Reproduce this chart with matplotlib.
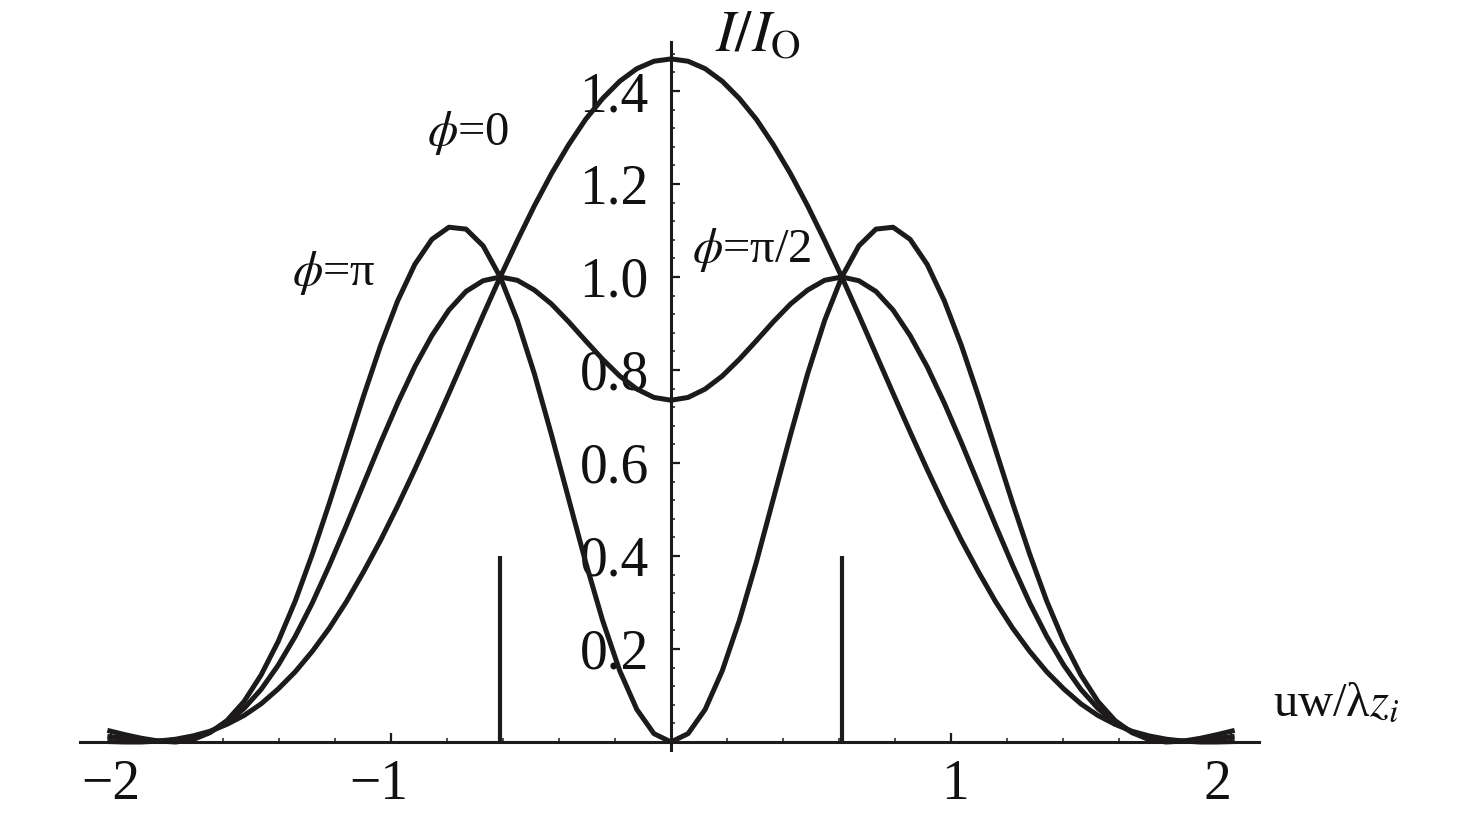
import matplotlib
matplotlib.use("Agg")
import matplotlib.pyplot as plt
from matplotlib.ticker import FixedLocator
from matplotlib.transforms import ScaledTranslation
import numpy as np

plt.rcParams['font.family'] = ['Liberation Serif', 'DejaVu Serif']
plt.rcParams['mathtext.fontset'] = 'stix'

# ---------------- data ----------------
x_vals = [-2.013, -1.952, -1.891, -1.830, -1.769, -1.708, -1.647, -1.586, -1.525, -1.464,
          -1.403, -1.342, -1.281, -1.220, -1.159, -1.098, -1.037, -0.976, -0.915, -0.854,
          -0.793, -0.732, -0.671, -0.610, -0.549, -0.488, -0.427, -0.366, -0.305, -0.244,
          -0.183, -0.122, -0.061, 0.000, 0.061, 0.122, 0.183, 0.244, 0.305, 0.366,
          0.427, 0.488, 0.549, 0.610, 0.671, 0.732, 0.793, 0.854, 0.915, 0.976,
          1.037, 1.098, 1.159, 1.220, 1.281, 1.342, 1.403, 1.464, 1.525, 1.586,
          1.647, 1.708, 1.769, 1.830, 1.891, 1.952, 2.013]

I_phi0 = [0.001, 0.000, 0.000, 0.002, 0.006, 0.013, 0.023, 0.038, 0.057, 0.082,
          0.114, 0.151, 0.195, 0.245, 0.302, 0.366, 0.434, 0.508, 0.586, 0.667,
          0.750, 0.834, 0.918, 1.000, 1.078, 1.153, 1.222, 1.284, 1.339, 1.384,
          1.421, 1.448, 1.464, 1.469, 1.464, 1.448, 1.421, 1.384, 1.339, 1.284,
          1.222, 1.153, 1.078, 1.000, 0.918, 0.834, 0.750, 0.667, 0.586, 0.508,
          0.434, 0.366, 0.302, 0.245, 0.195, 0.151, 0.114, 0.082, 0.057, 0.038,
          0.023, 0.013, 0.006, 0.002, 0.000, 0.000, 0.001]

I_phipi = [0.025, 0.016, 0.008, 0.002, 0.000, 0.005, 0.020, 0.046, 0.087, 0.144,
           0.216, 0.303, 0.404, 0.514, 0.629, 0.744, 0.853, 0.949, 1.027, 1.081,
           1.107, 1.103, 1.067, 1.000, 0.907, 0.792, 0.661, 0.524, 0.387, 0.261,
           0.153, 0.070, 0.018, 0.000, 0.018, 0.070, 0.153, 0.261, 0.387, 0.524,
           0.661, 0.792, 0.907, 1.000, 1.067, 1.103, 1.107, 1.081, 1.027, 0.949,
           0.853, 0.744, 0.629, 0.514, 0.404, 0.303, 0.216, 0.144, 0.087, 0.046,
           0.020, 0.005, 0.000, 0.002, 0.008, 0.016, 0.025]

I_phihalf = [0.012, 0.008, 0.004, 0.002, 0.003, 0.009, 0.021, 0.042, 0.072, 0.113,
             0.165, 0.227, 0.299, 0.380, 0.466, 0.555, 0.644, 0.729, 0.807, 0.874,
             0.929, 0.969, 0.992, 1.000, 0.993, 0.972, 0.942, 0.904, 0.863, 0.823,
             0.787, 0.759, 0.741, 0.735, 0.741, 0.759, 0.787, 0.823, 0.863, 0.904,
             0.942, 0.972, 0.993, 1.000, 0.992, 0.969, 0.929, 0.874, 0.807, 0.729,
             0.644, 0.555, 0.466, 0.380, 0.299, 0.227, 0.165, 0.113, 0.072, 0.042,
             0.021, 0.009, 0.003, 0.002, 0.004, 0.008, 0.012]

source_x = [-0.61, 0.61]
source_h = [0.4, 0.4]

xtick_vals = [-2, -1, 1, 2]
xtick_labels = ['\u22122', '\u22121', '1', '2']
ytick_vals = [0.2, 0.4, 0.6, 0.8, 1.0, 1.2, 1.4]
ytick_labels = ['0.2', '0.4', '0.6', '0.8', '1.0', '1.2', '1.4']

curve_labels = [r'$\phi$=0', r'$\phi$=π', r'$\phi$=π/2']
curve_label_pos = [(-0.871, 1.284), (-1.354, 0.983), (0.075, 1.032)]

# ---------------- figure ----------------
ink = '#1c1a1a'
fig = plt.figure(figsize=(14.76, 8.27), dpi=100)
ax = fig.add_axes([0, 0, 1, 1])
ax.set_xlim(-2.3964, 2.875)
ax.set_ylim(-0.1828, 1.5957)

for s in ['top', 'right']:
    ax.spines[s].set_visible(False)
ax.spines['left'].set_position(('data', 0))
ax.spines['bottom'].set_position(('data', 0))
ax.spines['left'].set_bounds(-0.017, 1.505)
ax.spines['bottom'].set_bounds(-2.11, 2.10)
for s in ['left', 'bottom']:
    ax.spines[s].set_linewidth(2.2)
    ax.spines[s].set_color(ink)

ax.set_xticks(xtick_vals)
ax.set_xticklabels(xtick_labels)
ax.set_yticks(ytick_vals)
ax.set_yticklabels(ytick_labels)
ax.xaxis.set_minor_locator(FixedLocator(np.arange(-2.0, 2.01, 0.2)))
ax.yaxis.set_minor_locator(FixedLocator(np.arange(0.04, 1.49, 0.04)))

ax.tick_params(axis='both', which='major', direction='in', length=6.5, width=1.6,
               color=ink, labelsize=40, labelcolor='#111111')
ax.tick_params(axis='both', which='minor', direction='in', length=3.2, width=1.1, color=ink)
ax.tick_params(axis='x', which='major', pad=12)
ax.tick_params(axis='y', which='major', pad=16)

# small horizontal nudges of x tick labels (in points) to mimic the original typesetting
x_label_nudge = [0, -9, 3, -10]
for lab, dx in zip(ax.get_xticklabels(), x_label_nudge):
    lab.set_transform(lab.get_transform() + ScaledTranslation(dx / 72, 0, fig.dpi_scale_trans))

lw = 3.6
for series in (I_phi0, I_phipi, I_phihalf):
    ax.plot(x_vals, series, color=ink, lw=lw, solid_capstyle='butt',
            solid_joinstyle='round', zorder=5)
ax.vlines(source_x, 0, source_h, color=ink, lw=3.0, zorder=5)

for txt, (tx, ty) in zip(curve_labels, curve_label_pos):
    ax.text(tx, ty, txt, fontsize=35, ha='left', va='baseline', color='#111111')

ax.text(0.157, 1.484, r'$I/I_{\mathrm{O}}$', fontsize=42, ha='left', va='baseline',
        color='#111111')
ax.text(2.15, 0.058, r'uw/λ$z_i$', fontsize=35, ha='left', va='baseline', color='#111111')

fig.savefig('out.png', dpi=100)
